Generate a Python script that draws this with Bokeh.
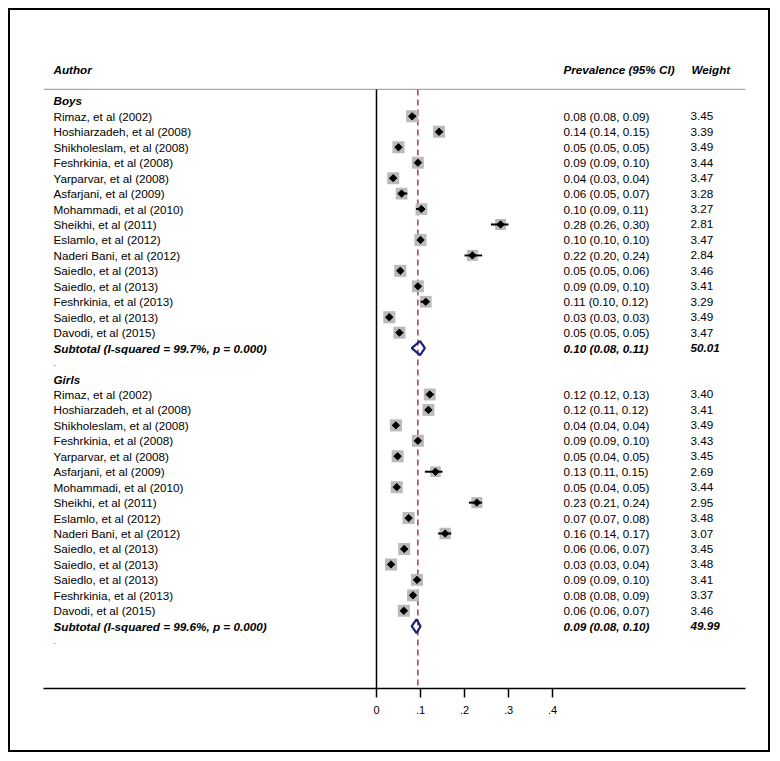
import math
from bokeh.plotting import figure
from bokeh.models import (ColumnDataSource, Range1d, LinearAxis, FixedTicker)
from bokeh.core.properties import value
from bokeh.embed import file_html
from bokeh.resources import INLINE

# ---------------- data ----------------
boys_authors = ["Rimaz, et al (2002)", "Hoshiarzadeh, et al (2008)", "Shikholeslam, et al (2008)",
                "Feshrkinia, et al (2008)", "Yarparvar, et al (2008)", "Asfarjani, et al (2009)",
                "Mohammadi, et al (2010)", "Sheikhi, et al (2011)", "Eslamlo, et al (2012)",
                "Naderi Bani, et al (2012)", "Saiedlo, et al (2013)", "Saiedlo, et al (2013)",
                "Feshrkinia, et al (2013)", "Saiedlo, et al (2013)", "Davodi, et al (2015)"]
boys_est = [0.081, 0.142, 0.050, 0.094, 0.038, 0.057, 0.102, 0.282, 0.100, 0.218, 0.054, 0.094, 0.112, 0.029, 0.052]
boys_lo = [0.08, 0.14, 0.05, 0.09, 0.03, 0.05, 0.09, 0.26, 0.10, 0.20, 0.05, 0.09, 0.10, 0.03, 0.05]
boys_hi = [0.09, 0.15, 0.05, 0.10, 0.04, 0.07, 0.11, 0.30, 0.10, 0.24, 0.06, 0.10, 0.12, 0.03, 0.05]
boys_weight = [3.45, 3.39, 3.49, 3.44, 3.47, 3.28, 3.27, 2.81, 3.47, 2.84, 3.46, 3.41, 3.29, 3.49, 3.47]
boys_sub = dict(label="Subtotal (I-squared = 99.7%, p = 0.000)", est=0.099, lo=0.08, hi=0.11, weight=50.01)

girls_authors = ["Rimaz, et al (2002)", "Hoshiarzadeh, et al (2008)", "Shikholeslam, et al (2008)",
                 "Feshrkinia, et al (2008)", "Yarparvar, et al (2008)", "Asfarjani, et al (2009)",
                 "Mohammadi, et al (2010)", "Sheikhi, et al (2011)", "Eslamlo, et al (2012)",
                 "Naderi Bani, et al (2012)", "Saiedlo, et al (2013)", "Saiedlo, et al (2013)",
                 "Saiedlo, et al (2013)", "Feshrkinia, et al (2013)", "Davodi, et al (2015)"]
girls_est = [0.121, 0.118, 0.044, 0.094, 0.048, 0.134, 0.046, 0.228, 0.073, 0.156, 0.063, 0.033, 0.092, 0.083, 0.062]
girls_lo = [0.12, 0.11, 0.04, 0.09, 0.04, 0.11, 0.04, 0.21, 0.07, 0.14, 0.06, 0.03, 0.09, 0.08, 0.06]
girls_hi = [0.13, 0.12, 0.04, 0.10, 0.05, 0.15, 0.05, 0.24, 0.08, 0.17, 0.07, 0.04, 0.10, 0.09, 0.07]
girls_weight = [3.40, 3.41, 3.49, 3.43, 3.45, 2.69, 3.44, 2.95, 3.48, 3.07, 3.45, 3.48, 3.41, 3.37, 3.46]
girls_sub = dict(label="Subtotal (I-squared = 99.6%, p = 0.000)", est=0.091, lo=0.08, hi=0.10, weight=49.99)

overall_est = 0.094
tick_values = [0, 0.1, 0.2, 0.3, 0.4]
tick_labels = ["0", ".1", ".2", ".3", ".4"]

# ---------------- layout of rows ----------------
groups = [("Boys", boys_authors, boys_est, boys_lo, boys_hi, boys_weight, boys_sub),
          ("Girls", girls_authors, girls_est, girls_lo, girls_hi, girls_weight, girls_sub)]

study = dict(y=[], author=[], est=[], lo=[], hi=[], w=[], size=[], ci=[], wtxt=[])
heads = dict(y=[], text=[])
subs = dict(y=[], label=[], ci=[], wtxt=[])
dots = dict(y=[])
diamonds = dict(xs=[], ys=[])

row = 2
for name, au, est, lo, hi, wt, sub in groups:
    heads["y"].append(row); heads["text"].append(name)
    row += 1
    for a, e, l, h, w in zip(au, est, lo, hi, wt):
        study["y"].append(row); study["author"].append(a)
        study["est"].append(e); study["lo"].append(l); study["hi"].append(h)
        study["w"].append(w); study["size"].append(12.0 * math.sqrt(w / 3.45))
        study["ci"].append(f"{e:.2f} ({l:.2f}, {h:.2f})")
        study["wtxt"].append(f"{w:.2f}")
        row += 1
    subs["y"].append(row); subs["label"].append(sub["label"])
    subs["ci"].append(f"{sub['est']:.2f} ({sub['lo']:.2f}, {sub['hi']:.2f})")
    subs["wtxt"].append(f"{sub['weight']:.2f}")
    diamonds["xs"].append([sub["lo"], sub["est"], sub["hi"], sub["est"]])
    diamonds["ys"].append([row, row - 0.45, row, row + 0.45])
    row += 1
    dots["y"].append(row)
    row += 1

FONT = value("Liberation Sans")
FS = "11.7px"
ROW_TOP, ROW_BOTTOM = -3.85, 40.03
LINE_ROW = 1.26

p = figure(width=762, height=744, output_backend="svg", toolbar_location=None,
           x_range=Range1d(-0.7568, 0.8386), y_range=Range1d(ROW_BOTTOM, ROW_TOP),
           min_border_left=33, min_border_right=27, min_border_top=0, min_border_bottom=66,
           x_axis_type=None, y_axis_type=None)
p.extra_x_ranges = {"px": Range1d(43, 745)}
p.outline_line_color = None
p.grid.visible = False
p.styles = {"border": "2px solid black", "margin": "8px 0 0 8px"}

# axis
ax = LinearAxis(ticker=FixedTicker(ticks=tick_values),
                major_label_overrides={v: t for v, t in zip(tick_values, tick_labels)})
ax.axis_line_width = 1.5
ax.axis_line_color = "black"
ax.major_tick_line_color = "black"
ax.major_tick_line_width = 1.5
ax.major_tick_out = 9
ax.major_tick_in = 0
ax.minor_tick_line_color = None
ax.major_label_text_font = "Liberation Sans"
ax.major_label_text_font_size = "11px"
ax.major_label_text_color = "black"
ax.major_label_standoff = 8
p.add_layout(ax, "below")

# header separator line
p.segment(x0=[43], x1=[745], y0=[LINE_ROW], y1=[LINE_ROW], x_range_name="px",
          line_color="#a8a8a8", line_width=1.2)
# null line at 0
p.segment(x0=[0], x1=[0], y0=[LINE_ROW], y1=[ROW_BOTTOM], line_color="black", line_width=1.5)
# overall dashed line
p.segment(x0=[overall_est], x1=[overall_est], y0=[LINE_ROW], y1=[ROW_BOTTOM],
          line_color="#a0404c", line_width=1.5, line_dash="6 4")

src = ColumnDataSource(study)
p.rect(x="est", y="y", width="size", height="size", width_units="screen", height_units="screen",
       source=src, fill_color="#bababa", line_color=None)
p.segment(x0="lo", x1="hi", y0="y", y1="y", source=src, line_color="black", line_width=2)
p.scatter(x="est", y="y", source=src, marker="square", angle=math.pi / 4, size=5.2,
          fill_color="black", line_color="black")

p.patches(xs="xs", ys="ys", source=ColumnDataSource(diamonds), fill_color=None,
          line_color="#1f1f7a", line_width=2.2)

# texts
AX, CX, WX = 53, 563, 690
TC = "black"
p.text(x=[AX], y=[0], text=["Author"], x_range_name="px", text_font=FONT, text_font_size=FS,
       text_font_style="bold italic", text_baseline="middle", text_color=TC)
p.text(x=[CX], y=[0], text=["Prevalence (95% CI)"], x_range_name="px", text_font=FONT,
       text_font_size=FS, text_font_style="bold italic", text_baseline="middle", text_color=TC)
p.text(x=[WX + 1], y=[0], text=["Weight"], x_range_name="px", text_font=FONT, text_font_size=FS,
       text_font_style="bold italic", text_baseline="middle", text_color=TC)

p.text(x=AX, y="y", text="text", source=ColumnDataSource(heads), x_range_name="px",
       text_font=FONT, text_font_size=FS, text_font_style="bold italic", text_baseline="middle",
       text_color=TC)
p.text(x=AX, y="y", text="author", source=src, x_range_name="px",
       text_font=FONT, text_font_size=FS, text_baseline="middle", text_color=TC)
p.text(x=CX, y="y", text="ci", source=src, x_range_name="px",
       text_font=FONT, text_font_size=FS, text_baseline="middle", text_color=TC)
p.text(x=WX, y="y", text="wtxt", source=src, x_range_name="px",
       text_font=FONT, text_font_size=FS, text_baseline="middle", text_color=TC)

ssrc = ColumnDataSource(subs)
for col, xx in (("label", AX), ("ci", CX), ("wtxt", WX)):
    p.text(x=xx, y="y", text=col, source=ssrc, x_range_name="px", text_font=FONT,
           text_font_size=FS, text_font_style="bold italic", text_baseline="middle", text_color=TC)

dsrc = ColumnDataSource(dict(y=dots["y"], t=["."] * len(dots["y"])))
p.text(x=AX, y="y", text="t", source=dsrc, x_range_name="px", text_font=FONT,
       text_font_size="8px", text_baseline="middle", text_color=TC)

open("out.html", "w").write(file_html(p, INLINE))
